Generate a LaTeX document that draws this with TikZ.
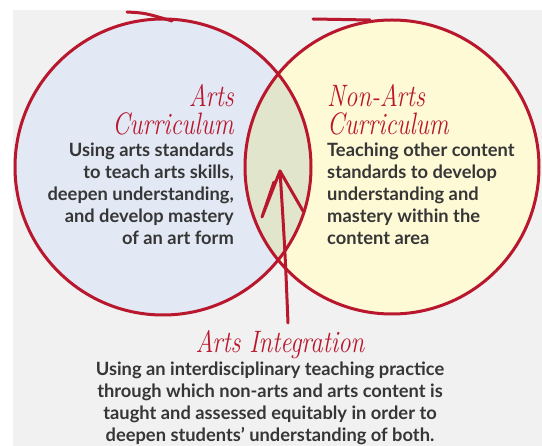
\documentclass[tikz,border=0pt]{standalone}
\usepackage{fontspec}
\setmainfont{Lato}
\newfontfamily\handfont[FakeStretch=0.8]{Latin Modern Roman}
\definecolor{bggray}{HTML}{F1F1F1}
\definecolor{leftfill}{HTML}{E2E8F4}
\definecolor{rightfill}{HTML}{FEFAD6}
\definecolor{lensfill}{HTML}{E1E5CB}
\definecolor{pen}{HTML}{B8172D}
\definecolor{ink}{HTML}{363636}
\begin{document}
\begin{tikzpicture}[x=1pt,y=-1pt,
  penline/.style={draw=pen,line width=3pt,line cap=round,line join=round},
  hand/.style={text=pen,font=\handfont\itshape\fontsize{31}{24}\selectfont,inner sep=0pt},
  body/.style={text=ink,font=\bfseries\fontsize{18.3}{22}\selectfont,inner sep=0pt}]
\useasboundingbox (0,0) rectangle (542,446);
\fill[white] (0,0) rectangle (542,446);
\fill[bggray] (13,10) rectangle (542,446);
% circles
\coordinate (lc) at (163,167);
\coordinate (rc) at (392,167);
\fill[leftfill] (lc) circle[radius=148];
\fill[rightfill] (rc) circle[radius=147];
\begin{scope}
  \clip (lc) circle[radius=148];
  \fill[lensfill] (rc) circle[radius=147];
\end{scope}
\draw[penline] (lc) circle[radius=148];
\draw[penline] (rc) circle[radius=147];
% hand-drawn tails
\coordinate (lt1) at (127,12);
\coordinate (lt2) at (172,21);
\draw[penline] (lt1) .. controls (145,13) .. (lt2);
\coordinate (rt1) at (313,19);
\coordinate (rt2) at (370,20);
\draw[penline] (rt1) -- (rt2);
% arrow
\coordinate (ab) at (288,323);
\coordinate (at) at (280,171);
\coordinate (al) at (262,217);
\coordinate (al2) at (274,182);
\coordinate (ar) at (303,211);
\draw[penline] (ab) .. controls (285,250) .. (at);
\draw[penline] (al2) -- (al) -- (at) -- (ar);
% titles
\node[hand,anchor=base east,text depth=0pt] (artsA) at (234,107) {Arts};
\node[hand,anchor=base east] (artsC) at (234,135) {Curriculum};
\node[hand,anchor=base west,text depth=0pt] (nonA) at (327,107) {Non-Arts};
\node[hand,anchor=base west] (nonC) at (327,135) {Curriculum};
\node[hand,anchor=base] (integ) at (280,353) {Arts Integration};
% bodies (base anchor = last line baseline)
\node[body,anchor=base east,align=right] (lbody) at (234,245) {Using arts standards\\to teach arts skills,\\deepen understanding,\\and develop mastery\\of an art form};
\node[body,anchor=base west,align=left] (rbody) at (327,245) {Teaching other content\\standards to develop\\understanding and\\mastery within the\\content area};
\node[body,anchor=base,align=center] (bbody) at (270,442) {Using an interdisciplinary teaching practice\\through which non-arts and arts content is\\taught and assessed equitably in order to\\deepen students' understanding of both.};
\end{tikzpicture}
\end{document}
